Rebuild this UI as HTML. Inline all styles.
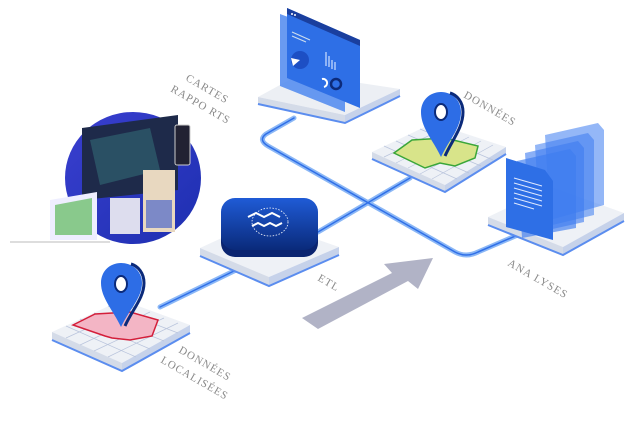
<!DOCTYPE html>
<html><head><meta charset="utf-8"><style>
html,body{margin:0;padding:0;background:#fff;width:640px;height:426px;overflow:hidden}
svg{display:block}
text{font-family:"Liberation Serif",serif;fill:#8a8a8a;font-size:11px;letter-spacing:1px}
</style></head><body>
<svg width="640" height="426" viewBox="0 0 640 426" xmlns="http://www.w3.org/2000/svg">
<defs>
<linearGradient id="etl" x1="0" y1="0" x2="0" y2="1"><stop offset="0" stop-color="#1f5bd6"/><stop offset="1" stop-color="#0a2a7a"/></linearGradient>
<linearGradient id="blob" x1="0" y1="0" x2="1" y2="1"><stop offset="0" stop-color="#3a3fd0"/><stop offset="1" stop-color="#1d2fb0"/></linearGradient>
</defs>
<g fill="none" stroke="#7fb0f5" stroke-width="5" stroke-linecap="round" stroke-linejoin="round" opacity="0.9">
<path d="M294,118 L266,134 Q258,140 268,146 L455,252 Q466,258 478,252 L520,234"/>
<path d="M318,232 L410,178"/>
<path d="M160,307 L236,270"/>
</g>
<g fill="none" stroke="#2f6fe8" stroke-width="1.5" stroke-linecap="round" stroke-linejoin="round">
<path d="M294,118 L266,134 Q258,140 268,146 L455,252 Q466,258 478,252 L520,234"/>
<path d="M318,232 L410,178"/>
<path d="M160,307 L236,270"/>
</g>

<ellipse cx="133" cy="178" rx="68" ry="66" fill="url(#blob)"/>
<line x1="10" y1="242" x2="110" y2="242" stroke="#bbb" stroke-width="1"/>
<polygon points="82,128 178,115 178,190 82,200" fill="#1e2a4a"/>
<polygon points="90,140 150,128 160,170 100,185" fill="#2d5a6a" opacity="0.8"/>
<rect x="110" y="198" width="30" height="36" fill="#dde"/>
<polygon points="50,240 50,200 97,192 97,240" fill="#eef" />
<polygon points="55,235 55,205 92,198 92,235" fill="#6fbf6f" opacity="0.8"/>
<rect x="143" y="170" width="32" height="62" fill="#e8d8c0"/>
<rect x="146" y="200" width="26" height="28" fill="#3355cc" opacity="0.6"/>
<rect x="175" y="125" width="15" height="40" rx="2" fill="#223" stroke="#ccc"/>

<polygon points="258,97 300,74 400,89 345,115" fill="#eceff4"/>
<polygon points="258,97 345,115 345,123 258,104" fill="#d4dbe8"/>
<polygon points="345,115 400,89 400,96 345,123" fill="#c6d2ea"/>
<polyline points="258,104 345,123 400,96" fill="none" stroke="#5b8def" stroke-width="2"/>
<polygon points="280,14 345,38 345,112 280,86" fill="#4f88ee" opacity="0.85"/>
<polygon points="287,8 360,40 360,108 287,78" fill="#2e6fe6"/>
<polygon points="287,8 360,40 360,46 287,14" fill="#1a3f9e"/>
<circle cx="292" cy="14" r="1" fill="#fff"/><circle cx="295" cy="15" r="1" fill="#fff"/>
<path d="M292,32 L310,40 M292,36 L306,42" stroke="#cde" stroke-width="1.2"/>
<circle cx="300" cy="60" r="9" fill="#1d4fc4"/><path d="M300,60 L291,58 L293,66 Z" fill="#fff"/>
<path d="M326,52 v14 M329,56 v11 M332,60 v9 M335,62 v8" stroke="#cfe0ff" stroke-width="1.2"/>
<path d="M322,79 a4,4 0 0 1 2,8" stroke="#fff" stroke-width="2" fill="none"/>
<circle cx="336" cy="84" r="5" fill="none" stroke="#0c2a7a" stroke-width="2.5"/>

<polygon points="372,152 433,123 506,147 445,185" fill="#eef1f6"/>
<polygon points="372,152 445,185 445,192 372,159" fill="#d4dbe8"/>
<polygon points="445,185 506,147 506,154 445,192" fill="#c6d2ea"/>
<polyline points="372,159 445,192 506,154" fill="none" stroke="#5b8def" stroke-width="2"/>
<g stroke="#b9c4dc" stroke-width="0.7">
<path d="M384,146 L457,179 M396,141 L469,173 M408,135 L481,166 M420,129 L493,160 M384,157 L445,128 M396,163 L457,132 M408,168 L469,137 M420,174 L481,141 M432,179 L493,145"/>
</g>
<polygon points="394,153 412,140 445,138 478,146 475,158 455,166 440,163 425,168" fill="#d8e48a" stroke="#3aa63a" stroke-width="1.5"/>
<path d="M441,157 C433,140 421,128 421,112 C421,100 430,92 441,92 C452,92 461,100 461,112 C461,128 449,140 441,157 Z" fill="#2d6de6"/>
<path d="M445,156 C452,140 463,128 463,112 C463,102 457,95 450,93" fill="none" stroke="#0b2a7a" stroke-width="3"/>
<ellipse cx="441" cy="112" rx="6" ry="8" fill="#fff" stroke="#0b2a7a" stroke-width="2"/>

<polygon points="488,217 551,187 624,213 563,247" fill="#eef1f6"/>
<polygon points="488,217 563,247 563,255 488,225" fill="#d4dbe8"/>
<polygon points="563,247 624,213 624,221 563,255" fill="#c6d2ea"/>
<polyline points="488,225 563,255 624,221" fill="none" stroke="#5b8def" stroke-width="2"/>
<g>
<polygon points="545,135 598,123 604,130 604,205 550,220" fill="#3d7cf0" opacity="0.55"/>
<polygon points="535,145 588,133 594,140 594,215 540,228" fill="#3d7cf0" opacity="0.55"/>
<polygon points="525,153 578,141 584,148 584,222 530,234" fill="#3d7cf0" opacity="0.6"/>
<polygon points="517,161 570,149 576,156 576,228 522,238" fill="#3d7cf0" opacity="0.65"/>
<polygon points="506,158 545,170 553,181 553,240 506,227" fill="#2e6fe6"/>
<path d="M514,178 l28,8 M514,183 l28,8 M514,188 l28,8 M514,193 l28,8 M514,198 l28,8 M514,203 l20,6" stroke="#dfe9ff" stroke-width="1"/>
</g>

<polygon points="200,248 261,220 339,247 269,277" fill="#eef1f6"/>
<polygon points="200,248 269,277 269,286 200,256" fill="#d4dbe8"/>
<polygon points="269,277 339,247 339,255 269,286" fill="#c6d2ea"/>
<polyline points="200,256 269,286 339,255" fill="none" stroke="#5b8def" stroke-width="2"/>
<rect x="221" y="205" width="97" height="52" rx="14" fill="#0a2470"/>
<rect x="221" y="198" width="97" height="52" rx="14" fill="url(#etl)"/>
<ellipse cx="270" cy="222" rx="18" ry="14" fill="none" stroke="#fff" stroke-width="0.8" stroke-dasharray="1.5 1.5"/>
<path d="M248,217 l8,-4 l8,4 l8,-4 l8,4 M252,226 l6,-3 l6,3 l6,-3 l6,3 l6,-3" stroke="#fff" stroke-width="2" fill="none"/>

<polygon points="52,332 122,300 190,325 122,363" fill="#eef1f6"/>
<polygon points="52,332 122,363 122,371 52,340" fill="#d4dbe8"/>
<polygon points="122,363 190,325 190,333 122,371" fill="#c6d2ea"/>
<polyline points="52,340 122,371 190,333" fill="none" stroke="#5b8def" stroke-width="2"/>
<g stroke="#b9c4dc" stroke-width="0.7">
<path d="M66,326 L136,357 M80,319 L150,349 M94,313 L164,341 M108,306 L178,333 M66,338 L136,306 M80,345 L150,312 M94,351 L164,318 M108,357 L178,323"/>
</g>
<polygon points="73,325 95,314 130,312 158,320 152,336 130,340 112,338 105,336" fill="#f3b5c5" stroke="#d41e3a" stroke-width="1.5"/>
<path d="M121,327 C113,310 101,298 101,283 C101,271 110,263 121,263 C132,263 142,271 142,283 C142,298 129,310 121,327 Z" fill="#2d6de6"/>
<path d="M125,326 C132,310 144,298 144,283 C144,273 138,266 131,264" fill="none" stroke="#0b2a7a" stroke-width="3"/>
<ellipse cx="121" cy="284" rx="6" ry="8" fill="#fff" stroke="#0b2a7a" stroke-width="2"/>

<polygon points="302,318 392,273 384,264 433,258 418,289 408,281 318,329" fill="#b1b3c6"/>

<text transform="translate(185,80) rotate(30)">CARTES</text>
<text transform="translate(170,91) rotate(30)">RAPPO RTS</text>
<text transform="translate(463,97) rotate(30)">DONNÉES</text>
<text transform="translate(317,280) rotate(30)">ETL</text>
<text transform="translate(507,265) rotate(30)">ANA LYSES</text>
<text transform="translate(178,352) rotate(30)">DONNÉES</text>
<text transform="translate(160,362) rotate(30)">LOCALISÉES</text>
</svg>
</body></html>
